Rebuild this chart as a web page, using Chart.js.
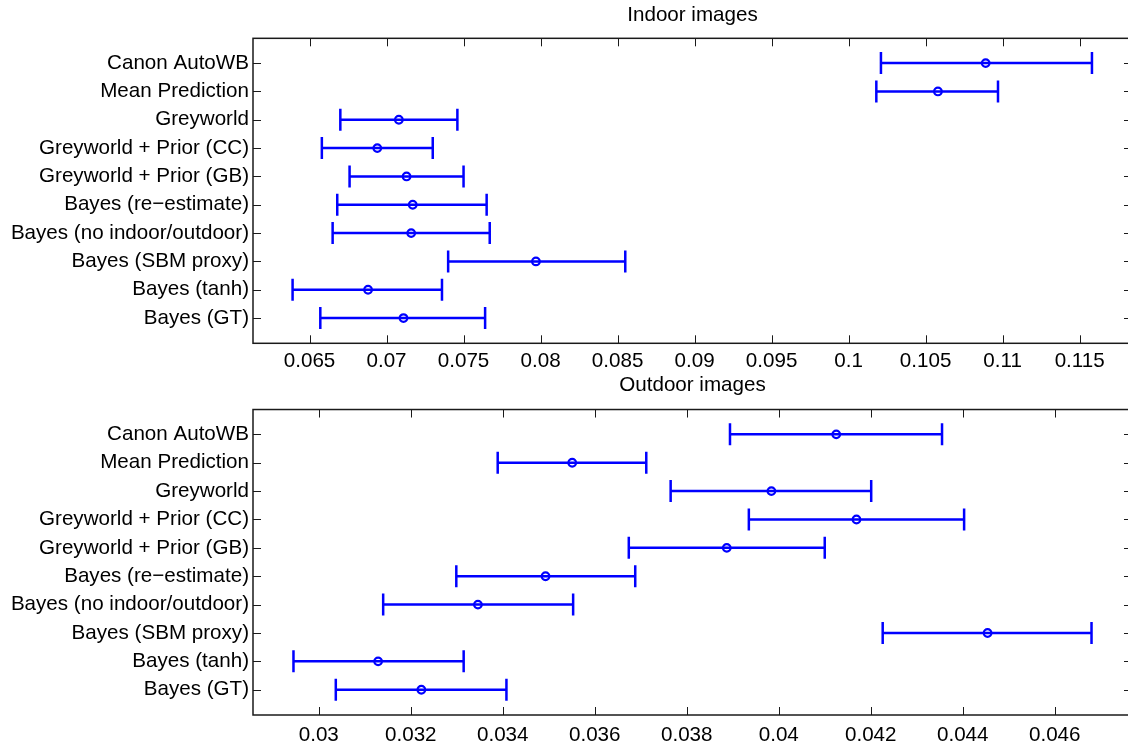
<!DOCTYPE html>
<html>
<head>
<meta charset="utf-8">
<title>Indoor / Outdoor images</title>
<script src="https://cdn.jsdelivr.net/npm/chart.js@4"></script>
<style>
  html, body { margin: 0; padding: 0; background: #fff; overflow: hidden; }
  #wrap { position: relative; width: 1128px; height: 745px; overflow: hidden; }
  canvas { position: absolute; left: 0; }
  #chart-indoor  { top: 0; }
  #chart-outdoor { top: 371px; }
</style>
</head>
<body>
<div id="wrap">
  <canvas id="chart-indoor" width="1132" height="372"></canvas>
  <canvas id="chart-outdoor" width="1132" height="374"></canvas>
</div>
<script>
// ── Data ──────────────────────────────────────────────
const CATEGORIES = [
  'Canon AutoWB', 'Mean Prediction', 'Greyworld',
  'Greyworld + Prior (CC)', 'Greyworld + Prior (GB)',
  'Bayes (re\u2212estimate)', 'Bayes (no indoor/outdoor)',
  'Bayes (SBM proxy)', 'Bayes (tanh)', 'Bayes (GT)',
];

// Indoor images: mean, lower and upper end of the error bar
const INDOOR_MEAN = [0.1089, 0.1058, 0.0708, 0.0694, 0.0713, 0.0717, 0.0716, 0.0797, 0.0688, 0.0711];
const INDOOR_LO   = [0.1021, 0.1018, 0.0670, 0.0658, 0.0676, 0.0668, 0.0665, 0.0740, 0.0639, 0.0657];
const INDOOR_HI   = [0.1158, 0.1097, 0.0746, 0.0730, 0.0750, 0.0765, 0.0767, 0.0855, 0.0736, 0.0764];
const INDOOR_TICKS  = [0.065, 0.07, 0.075, 0.08, 0.085, 0.09, 0.095, 0.1, 0.105, 0.11, 0.115];
const INDOOR_LABELS = ['0.065', '0.07', '0.075', '0.08', '0.085', '0.09', '0.095', '0.1', '0.105', '0.11', '0.115'];

// Outdoor images
const OUTDOOR_MEAN = [0.04125, 0.03551, 0.03984, 0.04169, 0.03887, 0.03493, 0.03346, 0.04454, 0.03129, 0.03223];
const OUTDOOR_LO   = [0.03894, 0.03389, 0.03765, 0.03935, 0.03674, 0.03299, 0.03140, 0.04226, 0.02945, 0.03037];
const OUTDOOR_HI   = [0.04355, 0.03712, 0.04201, 0.04403, 0.04100, 0.03688, 0.03553, 0.04680, 0.03315, 0.03408];
const OUTDOOR_TICKS  = [0.03, 0.032, 0.034, 0.036, 0.038, 0.04, 0.042, 0.044, 0.046];
const OUTDOOR_LABELS = ['0.03', '0.032', '0.034', '0.036', '0.038', '0.04', '0.042', '0.044', '0.046'];

// ── Style ─────────────────────────────────────────────
const FONT  = { family: "'Liberation Sans', Arial, Helvetica, sans-serif", size: 20.6, weight: 'normal' };
const BLUE  = '#0000ff';
const INK   = '#1a1a1a';
const TICK_LEN = 8;
const CAP_HALF = 11;

// ── Error bars (drawn under the markers) ──────────────
const errorBarPlugin = {
  id: 'errorBars',
  beforeDatasetsDraw(chart, args, opts) {
    const { ctx, scales: { x, y } } = chart;
    ctx.save();
    ctx.strokeStyle = BLUE;
    ctx.lineWidth = 2.5;
    opts.lo.forEach((lo, i) => {
      const x0 = x.getPixelForValue(lo);
      const x1 = x.getPixelForValue(opts.hi[i]);
      const py = y.getPixelForValue(i + 1);
      ctx.beginPath();
      ctx.moveTo(x0, py); ctx.lineTo(x1, py);
      ctx.moveTo(x0, py - CAP_HALF); ctx.lineTo(x0, py + CAP_HALF);
      ctx.moveTo(x1, py - CAP_HALF); ctx.lineTo(x1, py + CAP_HALF);
      ctx.stroke();
    });
    ctx.restore();
  },
};

// ── Axes box with inward ticks on all four sides ──────
const boxPlugin = {
  id: 'matlabBox',
  afterDraw(chart) {
    const { ctx, chartArea: a, scales: { x, y } } = chart;
    ctx.save();
    ctx.strokeStyle = INK;
    ctx.lineWidth = 1;
    ctx.beginPath();
    x.ticks.forEach(t => {
      const px = Math.round(x.getPixelForValue(t.value)) + 0.5;
      ctx.moveTo(px, a.bottom); ctx.lineTo(px, a.bottom - TICK_LEN);
      ctx.moveTo(px, a.top);    ctx.lineTo(px, a.top + TICK_LEN);
    });
    y.ticks.forEach(t => {
      const py = Math.round(y.getPixelForValue(t.value)) + 0.5;
      ctx.moveTo(a.left, py);  ctx.lineTo(a.left + TICK_LEN, py);
      ctx.moveTo(a.right, py); ctx.lineTo(a.right - TICK_LEN, py);
    });
    ctx.stroke();
    ctx.lineWidth = 1.5;
    ctx.strokeRect(a.left, a.top, a.right - a.left, a.bottom - a.top);
    ctx.restore();
  },
};

// ── Chart builder ─────────────────────────────────────
function makePanel(canvasId, cfg) {
  const ctx = document.getElementById(canvasId).getContext('2d');
  return new Chart(ctx, {
    type: 'scatter',
    data: {
      datasets: [{
        data: cfg.mean.map((v, i) => ({ x: v, y: i + 1 })),
        pointStyle: 'circle',
        pointRadius: 3.8,
        pointBorderWidth: 2.2,
        borderColor: BLUE,
        backgroundColor: 'rgba(0,0,0,0)',
      }],
    },
    options: {
      responsive: false,
      animation: false,
      layout: { padding: 0, autoPadding: false },
      plugins: {
        legend: { display: false },
        tooltip: { enabled: false },
        title: {
          display: true,
          fullSize: false,
          text: cfg.title,
          color: '#000',
          font: FONT,
          padding: cfg.titlePadding,
        },
        errorBars: { lo: cfg.lo, hi: cfg.hi },
      },
      scales: {
        x: {
          type: 'linear',
          position: 'bottom',
          min: cfg.range[0],
          max: cfg.range[1],
          grid: { display: false, drawTicks: false },
          border: { display: false },
          ticks: {
            color: '#000', font: FONT, padding: cfg.labelPad,
            autoSkip: false, maxRotation: 0,
            callback: (v, i) => cfg.tickLabels[i],
          },
          afterBuildTicks: s => { s.ticks = cfg.ticks.map(v => ({ value: v })); },
          afterFit: s => { s.height = cfg.xAxisHeight; s.paddingLeft = 0; s.paddingRight = 0; },
        },
        y: {
          type: 'linear',
          reverse: true,
          min: 0.125,
          max: 10.89,
          grid: { display: false, drawTicks: false },
          border: { display: false },
          ticks: {
            color: '#000', font: FONT, padding: 4, autoSkip: false,
            callback: v => CATEGORIES[v - 1],
          },
          afterBuildTicks: s => { s.ticks = CATEGORIES.map((c, i) => ({ value: i + 1 })); },
          afterFit: s => { s.width = 253; s.paddingTop = 0; s.paddingBottom = 0; },
        },
      },
    },
    plugins: [errorBarPlugin, boxPlugin],
  });
}

makePanel('chart-indoor', {
  title: 'Indoor images',
  titlePadding: { top: 2.5, bottom: 11.1 },
  mean: INDOOR_MEAN, lo: INDOOR_LO, hi: INDOOR_HI,
  ticks: INDOOR_TICKS, tickLabels: INDOOR_LABELS,
  range: [0.06133, 0.1184],
  xAxisHeight: 28.7,
  labelPad: 5.5,
});

makePanel('chart-outdoor', {
  title: 'Outdoor images',
  titlePadding: { top: 1.5, bottom: 12.3 },
  mean: OUTDOOR_MEAN, lo: OUTDOOR_LO, hi: OUTDOOR_HI,
  ticks: OUTDOOR_TICKS, tickLabels: OUTDOOR_LABELS,
  range: [0.02857, 0.04768],
  xAxisHeight: 30,
  labelPad: 7.5,
});
</script>
</body>
</html>
